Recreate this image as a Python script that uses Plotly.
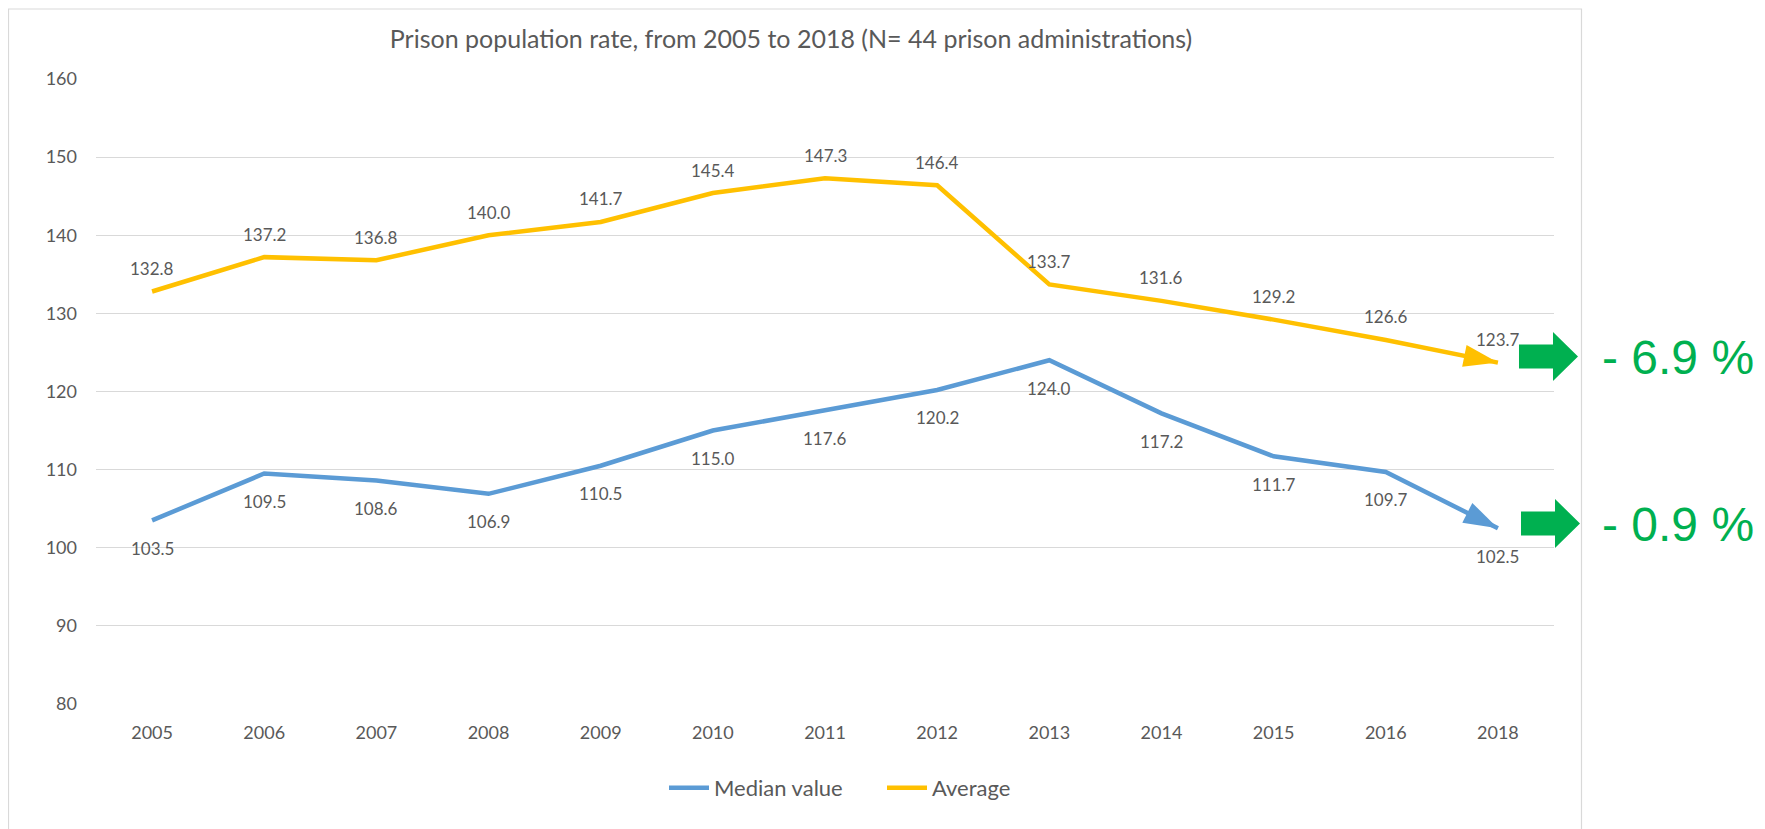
import plotly.graph_objects as go

years = ["2005", "2006", "2007", "2008", "2009", "2010", "2011", "2012", "2013", "2014", "2015", "2016", "2018"]
median_value = [103.5, 109.5, 108.6, 106.9, 110.5, 115.0, 117.6, 120.2, 124.0, 117.2, 111.7, 109.7, 102.5]
average = [132.8, 137.2, 136.8, 140.0, 141.7, 145.4, 147.3, 146.4, 133.7, 131.6, 129.2, 126.6, 123.7]
change_labels = ["- 6.9 %", "- 0.9 %"]
title_text = "Prison population rate, from 2005 to 2018 (N= 44 prison administrations)"

idx = list(range(len(years)))

# page body has an 8px margin; work in reference-screen pixels and convert
OFF = 8
W, H = 1765 - OFF, 829 - OFF
PL, PR, PT, PB = 96 - OFF, 1554 - OFF, 79 - OFF, 704 - OFF

def fx(px):
    return (px - OFF - PL) / (PR - PL)

def fy(py):
    return (PB - (py - OFF)) / (PB - PT)

BLUE = "#5B9BD5"
GOLD = "#FFC000"
GREEN = "#00B050"
TXT = "#595959"
GRID = "#D9D9D9"
FONT = "Lato"

n = len(years)
sym = ["circle"] * (n - 1) + ["arrow"]
sz = [0] * (n - 1) + [36]

fig = go.Figure()
for name, series, col in (("Median value", median_value, BLUE), ("Average", average, GOLD)):
    fig.add_trace(go.Scatter(x=idx, y=series, mode="lines+markers", name=name,
                             line=dict(color=col, width=4.5),
                             marker=dict(symbol=sym, size=sz, color=col, angleref="previous",
                                         opacity=1, line=dict(width=0))))

annotations = []
for x, v in zip(idx, median_value):
    annotations.append(dict(x=x, y=v, xref="x", yref="y", text=f"{v:.1f}", showarrow=False,
                            yshift=-28, font=dict(family=FONT, size=17, color=TXT)))
for x, v in zip(idx, average):
    annotations.append(dict(x=x, y=v, xref="x", yref="y", text=f"{v:.1f}", showarrow=False,
                            yshift=23, font=dict(family=FONT, size=17, color=TXT)))
for lab, cy in zip(change_labels, (357, 524)):
    annotations.append(dict(x=fx(1600), y=fy(cy), xref="paper", yref="paper", text=lab,
                            showarrow=False, xanchor="left", yanchor="middle",
                            font=dict(family="Liberation Sans", size=48, color=GREEN)))

shapes = [dict(type="rect", xref="paper", yref="paper", x0=fx(8.5), x1=fx(1581.5),
               y0=fy(9), y1=fy(850), line=dict(color=GRID, width=1.2), layer="below")]
for cy, x0 in ((356.5, 1519), (523.5, 1521)):
    pts = [(x0, cy - 12), (x0 + 34, cy - 12), (x0 + 34, cy - 24.5), (x0 + 59, cy),
           (x0 + 34, cy + 24.5), (x0 + 34, cy + 12), (x0, cy + 12)]
    path = "M " + " L ".join(f"{fx(px):.5f},{fy(py):.5f}" for px, py in pts) + " Z"
    shapes.append(dict(type="path", xref="paper", yref="paper", path=path,
                       fillcolor=GREEN, line=dict(width=0)))

fig.update_layout(
    width=W, height=H,
    margin=dict(l=PL, r=W - PR, t=PT, b=H - PB, pad=0),
    paper_bgcolor="white", plot_bgcolor="white",
    font=dict(family=FONT, size=18, color=TXT),
    title=dict(text=title_text, x=(791 - OFF) / W, xanchor="center",
               y=1 - (39 - OFF) / H, yanchor="middle",
               yref="container", font=dict(family=FONT, size=25, color=TXT)),
    xaxis=dict(range=[-0.5, n - 0.5], tickvals=idx, ticktext=years,
               showgrid=False, zeroline=False, showline=False,
               ticks="", ticklabelstandoff=16, tickfont=dict(size=18, color=TXT)),
    yaxis=dict(range=[80, 160], dtick=10, showgrid=True, gridcolor=GRID, gridwidth=1.3,
               zeroline=False, showline=False, ticks="", ticklabelstandoff=18,
               tickfont=dict(size=18, color=TXT)),
    legend=dict(orientation="h", x=fx(664), xanchor="left", y=fy(788), yanchor="middle",
                font=dict(family=FONT, size=22, color=TXT), itemwidth=40, entrywidth=163,
                traceorder="normal", bgcolor="rgba(0,0,0,0)"),
    annotations=annotations, shapes=shapes,
    showlegend=True,
)

fig.write_html("out.html")
